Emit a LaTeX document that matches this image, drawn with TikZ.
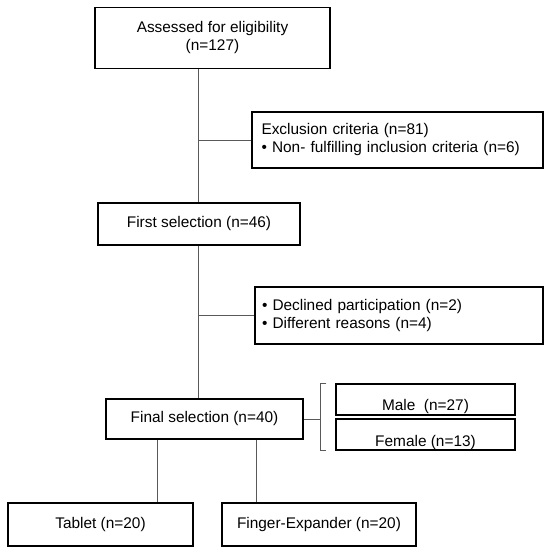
\documentclass[tikz,border=0pt]{standalone}
\usepackage{fontspec}
\setmainfont{Liberation Sans}
\usepackage{tikz}

\tikzset{
  box/.style={draw=black,line width=1.3pt,align=center,inner sep=0pt},
  listbox/.style={draw=black,line width=1.3pt,align=left,inner sep=0pt},
  sexbox/.style={box,minimum width=179,minimum height=31,text height=21pt,text depth=0pt},
  link/.style={draw=black!65,line width=0.9pt},
}

\begin{document}
\begin{tikzpicture}[x=1pt,y=-1pt,font=\fontsize{15.4}{18}\selectfont]
  \useasboundingbox (0,0) rectangle (550,553);
  \coordinate (trunk) at (198,0);

  \node[box,minimum width=235,minimum height=61] (elig) at (212.5,38)
    {Assessed for eligibility\\(n=127)};
  \node[listbox,minimum width=291,minimum height=56,text width=272] (excl) at (397.5,140)
    {Exclusion criteria (n=81)\\\textbullet\ Non- fulfilling inclusion criteria (n=6)};
  \node[box,minimum width=202,minimum height=42] (first) at (199,224)
    {First selection (n=46)};
  \node[listbox,minimum width=288,minimum height=57,text width=274] (decl) at (399,315.5)
    {\textbullet\ Declined participation (n=2)\\\textbullet\ Different reasons (n=4)};
  \node[box,minimum width=197,minimum height=40] (final) at (204.5,419)
    {Final selection (n=40)};
  \node[sexbox] (male) at (425.5,399.5) {Male~~(n=27)};
  \node[sexbox,text height=23pt] (female) at (425.5,434.5) {Female (n=13)};
  \node[box,minimum width=185,minimum height=43] (tab) at (100.5,524.5)
    {Tablet (n=20)};
  \node[box,minimum width=194,minimum height=43] (fing) at (319,524.5)
    {Finger-Expander (n=20)};

  % trunk and side branches
  \draw[link] (elig.south -| trunk) -- (first.north -| trunk);
  \draw[link] (first.south -| trunk) -- (final.north -| trunk);
  \draw[link] (excl.west -| trunk) -- (excl.west);
  \draw[link] (decl.west -| trunk) -- (decl.west);

  % bracket to sex split
  \coordinate (br) at (320,419);
  \draw[link] (final.east) -- (br);
  \draw[link] ([xshift=-9]male.north west) -- (male.north west -| br)
    -- (female.south west -| br) -- ([xshift=-9]female.south west);

  % groups
  \draw[link] ([xshift=-47.5]final.south) -- ([xshift=-47.5]final.south |- tab.north);
  \draw[link] ([xshift=51.5]final.south) -- ([xshift=51.5]final.south |- fing.north);
\end{tikzpicture}
\end{document}
